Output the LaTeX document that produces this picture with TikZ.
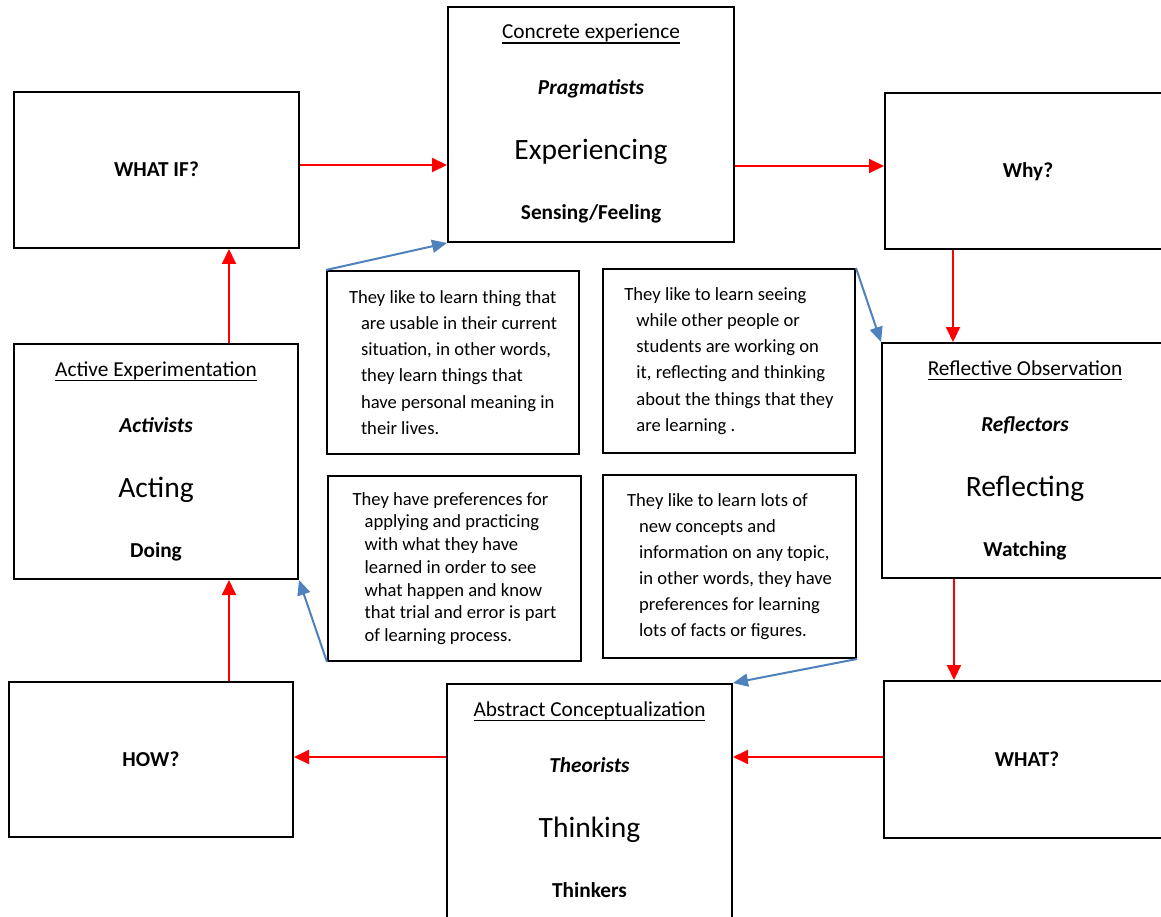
\documentclass[tikz,border=0pt]{standalone}
\usepackage{fontspec}
\setmainfont{Carlito}
\usetikzlibrary{arrows.meta}

% underline drawn as a rule that crosses the descenders
\newlength\ulwd
\newcommand\ultitle[1]{\settowidth\ulwd{#1}\rlap{\rule[-5.3pt]{\ulwd}{1.8pt}}#1}
% indent of the continuation lines in the description boxes
\newcommand\ind{\hspace*{12pt}}

\definecolor{flowred}{RGB}{255,0,0}
\definecolor{noteblue}{RGB}{79,129,189}

\tikzset{
  frame/.style={draw=black, line width=2pt, inner sep=0pt, fill=white},
  title/.style={anchor=base, font=\fontsize{21.3}{25}\selectfont},
  role/.style={anchor=base, font=\fontsize{21.3}{25}\selectfont\bfseries\itshape},
  verb/.style={anchor=base, font=\fontsize{29.5}{34}\selectfont},
  mode/.style={anchor=base, font=\fontsize{21.3}{25}\selectfont\bfseries},
  desc/.style={frame, align=left, font=\fontsize{18.6}{26.1}\selectfont},
  flow/.style={draw=flowred, line width=2pt, -{Triangle[length=15pt,width=14pt]}},
  note/.style={draw=noteblue, line width=2pt, -{Triangle[length=15pt,width=13pt]}},
}

\begin{document}
\begin{tikzpicture}[x=1pt, y=-1pt]
\useasboundingbox (0,0) rectangle (1161,917);
\clip (0,0) rectangle (1161,917);

% ---- stage boxes ----
\node[frame, minimum width=286pt, minimum height=235pt] (ce) at (591,124.5) {};
\node[frame, minimum width=286pt, minimum height=235pt] (ro) at (1025,460.5) {};
\node[frame, minimum width=285pt, minimum height=237pt] (ac) at (589.5,802.5) {};
\node[frame, minimum width=284pt, minimum height=235pt] (ae) at (156,461.5) {};

% ---- question boxes ----
\node[frame, minimum width=285pt, minimum height=156pt] (wi) at (156.5,170) {};
\node[frame, minimum width=286pt, minimum height=156pt] (why) at (1028,171) {};
\node[frame, minimum width=286pt, minimum height=157pt] (wt) at (1027,759.5) {};
\node[frame, minimum width=284pt, minimum height=155pt] (how) at (151,759.5) {};

\node[mode] (wi-t) at ([yshift=-7pt]wi.center) {WHAT IF?};
\node[mode] (why-t) at ([yshift=-7pt]why.center) {Why?};
\node[mode] (wt-t) at ([yshift=-6.5pt]wt.center) {WHAT?};
\node[mode] (how-t) at ([yshift=-7pt]how.center) {HOW?};

% ---- texts of the stage boxes ----
\node[title] (ce-1) at ([yshift=-33pt]ce.north) {\ultitle{Concrete experience}};
\node[role]  (ce-2) at ([yshift=-89pt]ce.north) {Pragmatists};
\node[verb]  (ce-3) at ([yshift=-154pt]ce.north) {Experiencing};
\node[mode]  (ce-4) at ([yshift=-214pt]ce.north) {Sensing/Feeling};

\node[title] (ro-1) at ([yshift=-33pt]ro.north) {\ultitle{Reflective Observation}};
\node[role]  (ro-2) at ([yshift=-89pt]ro.north) {Reflectors};
\node[verb]  (ro-3) at ([yshift=-154pt]ro.north) {Reflecting};
\node[mode]  (ro-4) at ([yshift=-214pt]ro.north) {Watching};

\node[title] (ac-1) at ([yshift=-33pt]ac.north) {\ultitle{Abstract Conceptualization}};
\node[role]  (ac-2) at ([yshift=-89pt]ac.north) {Theorists};
\node[verb]  (ac-3) at ([yshift=-154pt]ac.north) {Thinking};
\node[mode]  (ac-4) at ([yshift=-214pt]ac.north) {Thinkers};

\node[title] (ae-1) at ([yshift=-33pt]ae.north) {\ultitle{Active Experimentation}};
\node[role]  (ae-2) at ([yshift=-89pt]ae.north) {Activists};
\node[verb]  (ae-3) at ([yshift=-154pt]ae.north) {Acting};
\node[mode]  (ae-4) at ([yshift=-214pt]ae.north) {Doing};

% ---- description boxes ----
\node[desc, minimum width=252pt, minimum height=183pt] (d1) at (453,362.5)
  {They like to learn thing that\\\ind are usable in their current\\\ind situation, in other words,\\\ind they learn things that\\\ind have personal meaning in\\\ind their lives.};
\node[desc, minimum width=252pt, minimum height=184pt] (d2) at (729,361)
  {They like to learn seeing\\\ind while other people or\\\ind students are working on\\\ind it, reflecting and thinking\\\ind about the things that they\\\ind are learning .};
\node[desc, font=\fontsize{18.6}{22.7}\selectfont, minimum width=253pt, minimum height=185pt] (d3) at (454.5,568.5)
  {They have preferences for\\\ind applying and practicing\\\ind with what they have\\\ind learned in order to see\\\ind what happen and know\\\ind that trial and error is part\\\ind of learning process.};
\node[desc, minimum width=253pt, minimum height=183pt] (d4) at (729.5,566.5)
  {They like to learn lots of\\\ind new concepts and\\\ind information on any topic,\\\ind in other words, they have\\\ind preferences for learning\\\ind lots of facts or figures.};

% ---- cycle arrows ----
\draw[flow] ([yshift=5pt]wi.east) -- ([yshift=5pt]wi.east -| ce.west);
\draw[flow] ([yshift=5pt]why.west -| ce.east) -- ([yshift=5pt]why.west);
\draw[flow] ([xshift=69pt]why.south west) -- ([xshift=69pt]why.south west |- ro.north);
\draw[flow] ([xshift=73pt]ro.south west) -- ([xshift=73pt]ro.south west |- wt.north);
\draw[flow] ([yshift=2.5pt]wt.west) -- ([yshift=2.5pt]wt.west -| ac.east);
\draw[flow] ([yshift=2.5pt]how.east -| ac.west) -- ([yshift=2.5pt]how.east);
\draw[flow] ([xshift=221pt]how.north west) -- ([xshift=221pt]how.north west |- ae.south);
\draw[flow] ([xshift=216pt]ae.north west) -- ([xshift=216pt]ae.north west |- wi.south);

% ---- links from the descriptions ----
\draw[note] (d1.north west) -- (ce.south west);
\draw[note] (d2.north east) -- (ro.north west);
\draw[note] (d3.south west) -- (ae.south east);
\draw[note] (d4.south east) -- (ac.north east);
\end{tikzpicture}
\end{document}
